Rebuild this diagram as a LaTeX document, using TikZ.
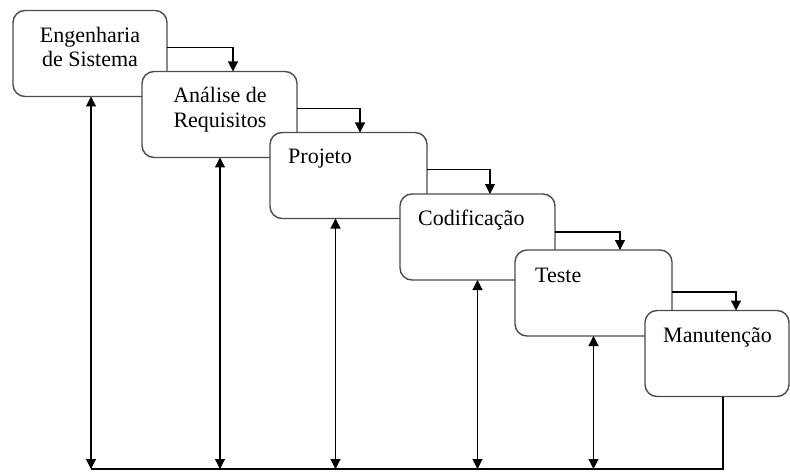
\documentclass[tikz,border=0pt]{standalone}
\usepackage{fontspec}
\setmainfont{Liberation Serif}
\usetikzlibrary{arrows.meta}
\begin{document}
\begin{tikzpicture}[x=1pt,y=-1pt,
  box/.style={draw=black!70, line width=1.4pt, rounded corners=12pt, fill=white,
    minimum height=86pt, inner sep=0pt, outer sep=0pt},
  lbl/.style={inner sep=0pt, font=\fontsize{22}{25}\selectfont},
  conn/.style={line width=1.1pt, -{Triangle[length=10pt,width=10pt]}},
  dbl/.style={line width=1.1pt, {Triangle[length=10pt,width=10pt]}-{Triangle[length=10pt,width=10pt]}},
  plain/.style={line width=1.1pt}]
\useasboundingbox (0,0) rectangle (790,476);
\node[box, minimum width=154pt] (b1) at (90,53.5) {};
\node[box, minimum width=155pt] (b2) at (219.5,114.5) {};
\node[box, minimum width=157pt] (b3) at (348.5,175.5) {};
\node[box, minimum width=155pt] (b4) at (477.5,237) {};
\node[box, minimum width=157pt] (b5) at (593.5,293) {};
\node[box, minimum width=144pt] (b6) at (717,353.5) {};
% texts
\node[lbl, anchor=base] (t1a) at (90,43) {Engenharia};
\node[lbl, anchor=base] (t1b) at (90,67) {de Sistema};
\node[lbl, anchor=base] (t2a) at (220,103) {Análise de};
\node[lbl, anchor=base] (t2b) at (220,128) {Requisitos};
\node[lbl, anchor=base west] (t3) at (288,164) {Projeto};
\node[lbl, anchor=base west] (t4) at (418,225) {Codificação};
\node[lbl, anchor=base west] (t5) at (535,282) {Teste};
\node[lbl, anchor=base west] (t6) at (663,342) {Manutenção};
% forward connectors
\draw[conn] ([yshift=6pt]b1.east) -| ([xshift=91pt]b2.north west);
\draw[conn] ([yshift=6pt]b2.east) -| ([xshift=90pt]b3.north west);
\draw[conn] ([yshift=6pt]b3.east) -| ([xshift=90pt]b4.north west);
\draw[conn] ([yshift=5pt]b4.east) -| ([xshift=105pt]b5.north west);
\draw[conn] ([yshift=1pt]b5.east) -| ([xshift=91pt]b6.north west);
% feedback
\coordinate (bl) at (91,469);
\coordinate (br) at (723,469);
\draw[plain] (b6.south -| br) -- (br) -- (bl);
\draw[dbl] ([xshift=1pt]b1.south) -- ([xshift=1pt]b1.south |- bl);
\draw[dbl] ([xshift=0.5pt]b2.south) -- ([xshift=0.5pt]b2.south |- bl);
\draw[dbl] ([xshift=-13pt]b3.south) -- ([xshift=-13pt]b3.south |- bl);
\draw[dbl] (b4.south) -- (b4.south |- bl);
\draw[dbl] (b5.south) -- (b5.south |- bl);
\end{tikzpicture}
\end{document}
